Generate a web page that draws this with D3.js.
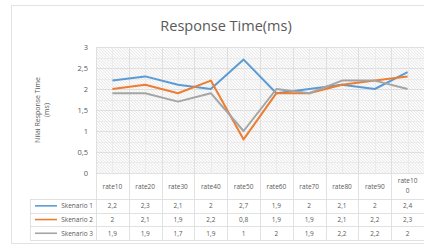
<!DOCTYPE html>
<html>
<head>
<meta charset="utf-8">
<script src="https://cdn.jsdelivr.net/npm/d3@7"></script>
<style>
  html, body { margin: 0; padding: 0; background: #fff; }
  svg { display: block; font-family: "Open Sans", "Liberation Sans", sans-serif; }
</style>
</head>
<body>
<svg id="chart" width="424" height="247"></svg>
<script>
var categories = ['rate10', 'rate20', 'rate30', 'rate40', 'rate50', 'rate60', 'rate70', 'rate80', 'rate90', 'rate100'];
var seriesNames = ['Skenario 1', 'Skenario 2', 'Skenario 3'];
var skenario1 = [2.2, 2.3, 2.1, 2, 2.7, 1.9, 2, 2.1, 2, 2.4];
var skenario2 = [2, 2.1, 1.9, 2.2, 0.8, 1.9, 1.9, 2.1, 2.2, 2.3];
var skenario3 = [1.9, 1.9, 1.7, 1.9, 1, 2, 1.9, 2.2, 2.2, 2];
var yTicks = [0, 0.5, 1, 1.5, 2, 2.5, 3];
var colors = ['#5b9bd5', '#ed7d31', '#a5a5a5'];

var svg = d3.select('#chart');
var TEXT = '#595959';
var GRID = '#d9d9d9';

// chart frame
svg.append('rect')
  .attr('x', 11.5).attr('y', 5.5)
  .attr('width', 420).attr('height', 238)
  .attr('fill', '#fff').attr('stroke', '#e3e3e3');

svg.append('text')
  .attr('x', 226).attr('y', 31)
  .attr('text-anchor', 'middle')
  .attr('font-size', 14.5)
  .attr('fill', TEXT)
  .text('Response Time(ms)');

var plot = { left: 96, right: 424, top: 47, bottom: 173 };

var x = d3.scaleBand().domain(categories).range([plot.left, plot.right]);
var y = d3.scaleLinear().domain([0, 3]).range([plot.bottom, plot.top]);

// hatch background
var defs = svg.append('defs');
var pat = defs.append('pattern')
  .attr('id', 'hatch').attr('patternUnits', 'userSpaceOnUse')
  .attr('width', 3).attr('height', 3);
pat.append('rect').attr('width', 3).attr('height', 3).attr('fill', '#fafafa');
pat.append('path').attr('d', 'M0,0 L3,3').attr('stroke', '#e4e4e4').attr('stroke-width', 0.7);

svg.append('rect')
  .attr('x', plot.left).attr('y', plot.top)
  .attr('width', plot.right - plot.left).attr('height', plot.bottom - plot.top)
  .attr('fill', 'url(#hatch)');

// minor + major gridlines
var grid = svg.append('g');
var minorY = d3.range(0, 3.01, 0.25);
grid.selectAll('line.hy').data(minorY).enter().append('line')
  .attr('x1', plot.left).attr('x2', plot.right)
  .attr('y1', function(d) { return Math.round(y(d)) + 0.5; })
  .attr('y2', function(d) { return Math.round(y(d)) + 0.5; })
  .attr('stroke', function(d) { return d % 0.5 === 0 ? GRID : '#e8e8e8'; })
  .attr('stroke-width', 0.8);

var xEdges = [];
categories.forEach(function(c) {
  xEdges.push({ v: x(c), major: true });
  xEdges.push({ v: x(c) + x.bandwidth() / 2, major: false });
});
grid.selectAll('line.vx').data(xEdges).enter().append('line')
  .attr('y1', plot.top).attr('y2', plot.bottom)
  .attr('x1', function(d) { return Math.round(d.v) + 0.5; })
  .attr('x2', function(d) { return Math.round(d.v) + 0.5; })
  .attr('stroke', function(d) { return d.major ? GRID : '#e8e8e8'; })
  .attr('stroke-width', 0.8);

// y axis labels
var yAxis = d3.axisLeft(y).tickValues(yTicks).tickSize(0).tickPadding(8)
  .tickFormat(function(d) { return String(d).replace('.', ','); });
var ya = svg.append('g').attr('transform', 'translate(' + plot.left + ',0)').call(yAxis);
ya.select('.domain').remove();
ya.selectAll('text').attr('fill', TEXT).attr('font-size', 7.5)
  .attr('font-family', '"Open Sans", "Liberation Sans", sans-serif');

// y axis title
var yt = svg.append('text')
  .attr('transform', 'translate(40,110) rotate(-90)')
  .attr('text-anchor', 'middle')
  .attr('font-size', 7)
  .attr('fill', TEXT);
yt.append('tspan').attr('x', 0).attr('dy', 0).text('Nilai Response Time');
yt.append('tspan').attr('x', 0).attr('dy', 9).text('(ms)');

// lines
var allSeries = [skenario1, skenario2, skenario3];
var line = d3.line()
  .x(function(d, i) { return x(categories[i]) + x.bandwidth() / 2; })
  .y(function(d) { return y(d); });

svg.append('g').selectAll('path').data(allSeries).enter().append('path')
  .attr('d', line)
  .attr('fill', 'none')
  .attr('stroke', function(d, i) { return colors[i]; })
  .attr('stroke-width', 2)
  .attr('stroke-linejoin', 'round');

// data table
var TBL = '#d9d9d9';
var headerTop = plot.bottom, headerBottom = 199, rowH = 13.7;
var legendLeft = 30;
var tbl = svg.append('g');

// header cells
tbl.selectAll('line.hv').data(categories.concat(['end'])).enter().append('line')
  .attr('x1', function(d, i) { return Math.round(plot.left + i * x.bandwidth()) + 0.5; })
  .attr('x2', function(d, i) { return Math.round(plot.left + i * x.bandwidth()) + 0.5; })
  .attr('y1', headerTop).attr('y2', headerBottom + rowH * 3)
  .attr('stroke', TBL).attr('stroke-width', 0.8);

var rowLines = [0, 1, 2, 3].map(function(i) { return headerBottom + i * rowH; });
tbl.selectAll('line.rh').data(rowLines).enter().append('line')
  .attr('x1', legendLeft).attr('x2', plot.right)
  .attr('y1', function(d) { return Math.round(d) + 0.5; })
  .attr('y2', function(d) { return Math.round(d) + 0.5; })
  .attr('stroke', TBL).attr('stroke-width', 0.8);
tbl.append('line')
  .attr('x1', legendLeft + 0.5).attr('x2', legendLeft + 0.5)
  .attr('y1', headerBottom).attr('y2', headerBottom + rowH * 3)
  .attr('stroke', TBL).attr('stroke-width', 0.8);

// header labels
categories.forEach(function(c) {
  var cx = x(c) + x.bandwidth() / 2;
  if (c.length > 6) {
    var t = tbl.append('text').attr('text-anchor', 'middle').attr('font-size', 6.5).attr('fill', TEXT);
    t.append('tspan').attr('x', cx).attr('y', 183).text(c.slice(0, 6));
    t.append('tspan').attr('x', cx).attr('y', 193).text(c.slice(6));
  } else {
    tbl.append('text').attr('x', cx).attr('y', 188.5)
      .attr('text-anchor', 'middle').attr('font-size', 6.5).attr('fill', TEXT).text(c);
  }
});

// rows
allSeries.forEach(function(s, r) {
  var cy = headerBottom + rowH * r + rowH / 2 + 2.3;
  tbl.append('line')
    .attr('x1', 35).attr('x2', 57)
    .attr('y1', cy - 2.3).attr('y2', cy - 2.3)
    .attr('stroke', colors[r]).attr('stroke-width', 1.6);
  tbl.append('text').attr('x', 93).attr('y', cy)
    .attr('text-anchor', 'end').attr('font-size', 6.5).attr('fill', TEXT)
    .text(seriesNames[r]);
  s.forEach(function(v, i) {
    tbl.append('text')
      .attr('x', x(categories[i]) + x.bandwidth() / 2).attr('y', cy)
      .attr('text-anchor', 'middle').attr('font-size', 6.5).attr('fill', TEXT)
      .text(String(v).replace('.', ','));
  });
});
</script>
</body>
</html>
